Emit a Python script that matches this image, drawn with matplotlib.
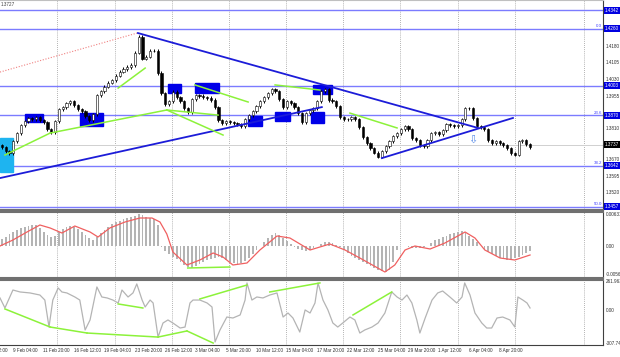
import numpy as np
import matplotlib
matplotlib.use("Agg")
import matplotlib.pyplot as plt
from matplotlib.patches import Rectangle

# ---------------- data ----------------
# 8-hour bars, closes
closes = [1.3724, 1.3706, 1.3697, 1.3751, 1.3788, 1.3824, 1.3842, 1.3856, 1.3851, 1.3860,
          1.3847, 1.3838, 1.3806, 1.3792, 1.3842, 1.3897, 1.3906, 1.3924, 1.3933, 1.3915,
          1.3897, 1.3888, 1.3865, 1.3847, 1.3874, 1.3960, 1.3978, 1.3997, 1.4015, 1.4028,
          1.4047, 1.4065, 1.4078, 1.4087, 1.4096, 1.4151, 1.4224, 1.4124, 1.4133, 1.4160,
          1.4160, 1.4060, 1.3969, 1.3919, 1.3933, 1.3974, 1.3951, 1.3933, 1.3901, 1.3883,
          1.3942, 1.3960, 1.3956, 1.3951, 1.3947, 1.3938, 1.3906, 1.3847, 1.3833, 1.3842,
          1.3838, 1.3833, 1.3829, 1.3820, 1.3851, 1.3869, 1.3888, 1.3910, 1.3933, 1.3951,
          1.3969, 1.3987, 1.3978, 1.3942, 1.3906, 1.3933, 1.3924, 1.3906, 1.3879, 1.3838,
          1.3879, 1.3892, 1.3901, 1.3933, 1.3978, 1.3987, 1.3938, 1.3933, 1.3910, 1.3860,
          1.3851, 1.3851, 1.3860, 1.3851, 1.3815, 1.3770, 1.3742, 1.3720, 1.3701, 1.3683,
          1.3706, 1.3729, 1.3751, 1.3774, 1.3788, 1.3806, 1.3820, 1.3806, 1.3765, 1.3756,
          1.3733, 1.3729, 1.3756, 1.3788, 1.3792, 1.3783, 1.3801, 1.3829, 1.3824, 1.3820,
          1.3824, 1.3851, 1.3901, 1.3901, 1.3856, 1.3820, 1.3815, 1.3806, 1.3756, 1.3742,
          1.3751, 1.3742, 1.3733, 1.3720, 1.3697, 1.3692, 1.3751, 1.3756, 1.3738, 1.3724]
first_open = 1.3733

# MACD histogram and signal, in units of 1e-4
macd_hist = [14, 18, 24, 28, 32, 36, 38, 40, 42, 42, 36, 28, 22, 18, 20, 28, 34, 38, 40, 38,
             34, 28, 22, 16, 12, 18, 26, 32, 38, 44, 48, 50, 54, 56, 58, 60, 64, 62, 58, 56,
             54, 42, -2, -10, -16, -22, -26, -32, -38, -42, -44, -40, -36, -32, -28, -26, -24, -22, -24, -28,
             -32, -34, -36, -34, -30, -24, -16, -8, 0, 8, 16, 22, 26, 22, 16, 10, 4, -2, -6, -8,
             -10, -8, -4, 0, 4, 8, 8, 6, 2, -2, -8, -14, -20, -24, -28, -32, -36, -40, -44, -48,
             -50, -52, -48, -32, -8, 0, 0, -2, -4, -4, -4, -2, 0, 6, 12, 14, 18, 20, 24, 26,
             28, 30, 26, 20, 14, 8, 0, -8, -12, -16, -20, -24, -26, -28, -26, -24, -22, -18, -14, -10]
signal_x = [-0.5, 2.9, 6.6, 10, 12.7, 15.8, 19.2, 23.2, 25.3, 28.4, 32.4, 36.3, 39.5, 41.6,
            43.4, 45, 48.7, 52.1, 55.6, 58.2, 60.8, 64.5, 67.9, 72.4, 75.8, 81.1, 86.3, 90.3,
            94.2, 100.8, 103.4, 106.1, 108.7, 112.7, 116.6, 121.9, 124.5, 127.1, 131.1, 135, 139]
signal_v = [0, 12, 28, 42, 36, 26, 40, 28, 18, 36, 48, 56, 56, 48, 24, -12, -38, -28, -14, -22,
            -38, -34, -8, 20, 16, -8, 4, -8, -24, -52, -38, -8, 0, -6, 6, 28, 16, -8, -24, -28, -18]

# CCI line
cci_x = [-0.5, 0.8, 2.9, 4.8, 7.4, 10, 11.3, 12.4, 13.4, 14.8, 15.8, 17.1, 19.2, 20.5, 21.9,
         23.2, 25, 26.3, 27.7, 29.2, 30.6, 31.6, 33.2, 34.5, 35.5, 36.9, 37.7, 39, 39.8, 41.1,
         42.4, 43.7, 45, 46.9, 48.2, 49.5, 50.3, 52.1, 54, 55.3, 56.1, 57.4, 59.2, 60.8, 62.7,
         64, 64.5, 65.8, 67.1, 68.7, 70.5, 72.4, 74, 75.3, 76.6, 78.4, 79.8, 81.1, 82.4, 83.2,
         84.5, 85.8, 87.1, 88.4, 89.7, 91.6, 92.9, 94.2, 95.5, 97.4, 99, 100.8, 102.6, 104,
         105.3, 106.6, 107.9, 109.2, 110, 111.4, 113.2, 114.7, 116, 117.9, 119.7, 121.1, 121.8,
         123.2, 124.5, 126.3, 127.6, 128.9, 130.3, 131.8, 133.7, 135, 135.8, 137.1, 138.2, 139]
cci_v = [115, 23, 188, 170, 161, 142, 96, -152, 96, 207, 170, 161, 124, 96, -179, -87, 216, 124,
         115, 96, 69, 188, 124, 161, 244, 96, 32, 96, 69, -244, -115, -87, -115, -161, -152, 69,
         96, 96, 69, 32, -289, -179, -60, -69, -41, 96, 253, 96, 124, 115, 142, 161, -60, -23,
         -69, -198, 5, -23, 69, 253, 96, 5, -115, -152, -115, -60, -87, -207, -179, -152, -115,
         -23, 170, 124, 96, 142, 69, -87, -207, -69, 96, 161, 179, 124, 69, 124, 253, 142, -23,
         -115, -161, -161, -69, -60, -87, -152, 124, 96, 69, 23]

# horizontal levels and fibo labels
levels = [1.4342, 1.4260, 1.4003, 1.3870, 1.3642, 1.3457]
fib_labels = ["", "0.0", "", "23.6", "38.2", "50.0"]
price_ticks = [1.4180, 1.4105, 1.4030, 1.3955, 1.3810, 1.3670, 1.3595, 1.3520]
last_price = 1.3737

# trend lines: (x0, x1), (p0, p1)
blue_lines = [((35.8, 125.3), (1.4240, 1.3812)),
              ((-0.5, 84.2), (1.3586, 1.3906)),
              ((100, 134.5), (1.3676, 1.3857))]
red_line = ((-0.5, 35.6), (1.4064, 1.4240))
green_lines = [((0.8, 12.7), (1.3690, 1.3789)),
               ((12.7, 43.4), (1.3789, 1.3893)),
               ((43.4, 56.9), (1.3893, 1.3870)),
               ((43.4, 58.2), (1.3893, 1.3780)),
               ((30.6, 37.7), (1.3992, 1.4082)),
               ((50.8, 64.8), (1.4006, 1.3929)),
               ((71.9, 83.7), (1.4006, 1.3983)),
               ((91.6, 104), (1.3879, 1.3812))]
macd_green = ((48.9, 60), (-44, -42))
cci_green = [((0.8, 12.7), (14, -152)),
             ((12.7, 22.4), (-152, -207)),
             ((22.4, 41.1), (-207, -244)),
             ((41.1, 48.7), (-244, -188)),
             ((48.7, 55.6), (-188, -299)),
             ((30.6, 37.1), (60, 23)),
             ((52.1, 64.5), (106, 234)),
             ((70.5, 83.7), (170, 253)),
             ((92.4, 102.6), (-41, 170))]

# boxes: (x0, x1, p_low, p_high)
boxes = [(6.1, 10.8, 1.3839, 1.3875), (20.6, 26.6, 1.3821, 1.3879),
         (43.7, 47.1, 1.3970, 1.4010), (50.8, 57.1, 1.3970, 1.4015),
         (64.8, 68.4, 1.3821, 1.3866), (71.9, 75.8, 1.3843, 1.3884),
         (81.3, 84.8, 1.3834, 1.3884), (81.9, 86.9, 1.3965, 1.4006)]
cyan_box = (-0.5, 2.9, 1.3613, 1.3767)
arrow_pt = (124, 1.3758)

grid_x = [14.5, 29.8, 44.8, 59.8, 74.8, 89.8, 104.8, 120, 135, 153.2]
time_labels = ["5 Feb 12:00", "9 Feb 04:00", "11 Feb 20:00", "16 Feb 12:00", "19 Feb 04:00",
               "23 Feb 20:00", "26 Feb 12:00", "3 Mar 04:00", "5 Mar 20:00", "10 Mar 12:00",
               "15 Mar 04:00", "17 Mar 20:00", "22 Mar 12:00", "25 Mar 04:00", "29 Mar 20:00",
               "1 Apr 12:00", "6 Apr 04:00", "8 Apr 20:00"]
time_pos = [-5.1, 2.9, 10.9, 18.9, 26.9, 34.9, 42.9, 50.9, 58.9, 66.9, 74.9, 82.9, 90.9,
            98.9, 106.9, 114.9, 122.9, 130.9]

# ---------------- figure ----------------
W, H = 620, 357
plt.rcParams['font.family'] = ['Liberation Sans', 'DejaVu Sans']
fig = plt.figure(figsize=(W / 100, H / 100), dpi=100)


def rect(top, bottom, right=603):
    return [0, (H - bottom) / H, right / W, (bottom - top) / H]


ax = fig.add_axes(rect(0, 210))
axm = fig.add_axes(rect(212, 278), sharex=ax)
axc = fig.add_axes(rect(280, 345), sharex=ax)

LEVEL = "#7b7bff"
GREEN = "#8cf23a"
FS = 3.3

for a in (ax, axm, axc):
    a.set_facecolor("white")
    a.tick_params(left=False, labelleft=False, bottom=False, labelbottom=False,
                  right=False, labelright=False)
    a.spines['left'].set_visible(False)
    a.spines['right'].set_color("#404040")
    a.spines['right'].set_linewidth(0.8)
    for gx in grid_x:
        a.axvline(gx, color="#9a9a9a", lw=0.6, ls=(0, (1, 1.5)), zorder=0)
ax.spines['top'].set_color("#c0c0c0")
ax.spines['bottom'].set_color("#707070")
ax.spines['bottom'].set_linewidth(1.5)
for a in (axm, axc):
    a.spines['top'].set_color("#707070")
    a.spines['top'].set_linewidth(1.5)
axm.spines['bottom'].set_color("#707070")
axm.spines['bottom'].set_linewidth(1.5)
axc.spines['bottom'].set_color("#404040")

ax.set_xlim(-0.5, 158.2)
ax.set_ylim(1.3442, 1.4389)

# levels
for lv, fl in zip(levels, fib_labels):
    ax.axhline(lv, color=LEVEL, lw=1.0, zorder=1)
    if fl:
        ax.text(157.9, lv + 0.0002, fl, color="#4040ff", fontsize=3.2, ha="right", va="bottom")
ax.axhline(last_price, color="#d0d0d0", lw=0.7, zorder=1)

# red dotted line
ax.plot(red_line[0], red_line[1], color="#f08080", lw=0.8, ls=(0, (1, 1.5)), zorder=2)

# boxes
for x0, x1, p0, p1 in boxes:
    ax.add_patch(Rectangle((x0, p0), x1 - x0, p1 - p0, color="#0000e8", zorder=2))
ax.add_patch(Rectangle((cyan_box[0], cyan_box[2]), cyan_box[1] - cyan_box[0],
                       cyan_box[3] - cyan_box[2], color="#1eb4f0", zorder=2))

# candles
c = np.array(closes)
o = np.r_[first_open, c[:-1]]
xi = np.arange(len(c))
wick = 0.0007
ax.vlines(xi, np.minimum(o, c) - wick, np.maximum(o, c) + wick, color="black", lw=0.7, zorder=3)
up = c >= o
ax.bar(xi[up], (c - o)[up], bottom=o[up], width=0.55, color="white", edgecolor="black",
       lw=0.4, zorder=4)
ax.bar(xi[~up], (c - o)[~up], bottom=o[~up], width=0.55, color="black", edgecolor="black",
       lw=0.4, zorder=4)

# trend lines
for xs, ps in blue_lines:
    ax.plot(xs, ps, color="#1c1cd8", lw=1.3, zorder=5)
for xs, ps in green_lines:
    ax.plot(xs, ps, color=GREEN, lw=1.1, zorder=5)

ax.text(arrow_pt[0], arrow_pt[1], "\u21e9", color="#5a8de8", fontsize=8, ha="center",
        va="center", zorder=6, family="DejaVu Sans")

# right axis labels
for p in price_ticks:
    ax.annotate(f"{p:.4f}", (1.0, p), xycoords=("axes fraction", "data"),
                xytext=(2, 0), textcoords="offset points", fontsize=FS, color="#303030",
                va="center", ha="left", annotation_clip=False)
for p in levels:
    ax.annotate(f"{p:.4f}", (1.0, p), xycoords=("axes fraction", "data"),
                xytext=(1.5, 0), textcoords="offset points", fontsize=FS, color="white",
                va="center", ha="left", annotation_clip=False,
                bbox=dict(boxstyle="square,pad=0.2", fc="#0000e0", ec="none"))
ax.annotate(f"{last_price:.4f}", (1.0, last_price), xycoords=("axes fraction", "data"),
            xytext=(1.5, 0), textcoords="offset points", fontsize=FS, color="white",
            va="center", ha="left", annotation_clip=False,
            bbox=dict(boxstyle="square,pad=0.2", fc="black", ec="none"))
fig.text(1 / W, 1 - 5 / H, "1.3727", fontsize=3.3, color="#404040", va="center")

# MACD
axm.set_ylim(-64e-4, 68e-4)
axm.bar(xi, np.array(macd_hist) * 1e-4, width=0.45, color="#b4b4b4", zorder=2)
axm.plot(signal_x, np.array(signal_v) * 1e-4, color="#f06060", lw=0.9, zorder=3)
axm.plot(macd_green[0], np.array(macd_green[1]) * 1e-4, color=GREEN, lw=1.1, zorder=4)
for v, s in [(0.00631, "0.00631"), (0.0, "0.00"), (-0.00568, "-0.00568")]:
    axm.annotate(s, (1.0, v), xycoords=("axes fraction", "data"), xytext=(2, 0),
                 textcoords="offset points", fontsize=FS, color="#303030", va="center",
                 annotation_clip=False)

# CCI
axc.set_ylim(-317, 280)
axc.plot(cci_x, cci_v, color="#b4b4b4", lw=0.9, zorder=2)
for xs, vs in cci_green:
    axc.plot(xs, vs, color=GREEN, lw=1.1, zorder=3)
for v, s in [(261.963, "261.9630"), (0.0, "0.00"), (-307.743, "-307.7430")]:
    axc.annotate(s, (1.0, v), xycoords=("axes fraction", "data"), xytext=(2, 0),
                 textcoords="offset points", fontsize=FS, color="#303030", va="center",
                 annotation_clip=False)

# time axis
for tp, tl in zip(time_pos, time_labels):
    axc.annotate(tl, (tp, 0), xycoords=("data", "axes fraction"), xytext=(0, -2.5),
                 textcoords="offset points", fontsize=FS, color="#303030", va="top",
                 ha="left", annotation_clip=False)

fig.savefig("out.png", dpi=100)
